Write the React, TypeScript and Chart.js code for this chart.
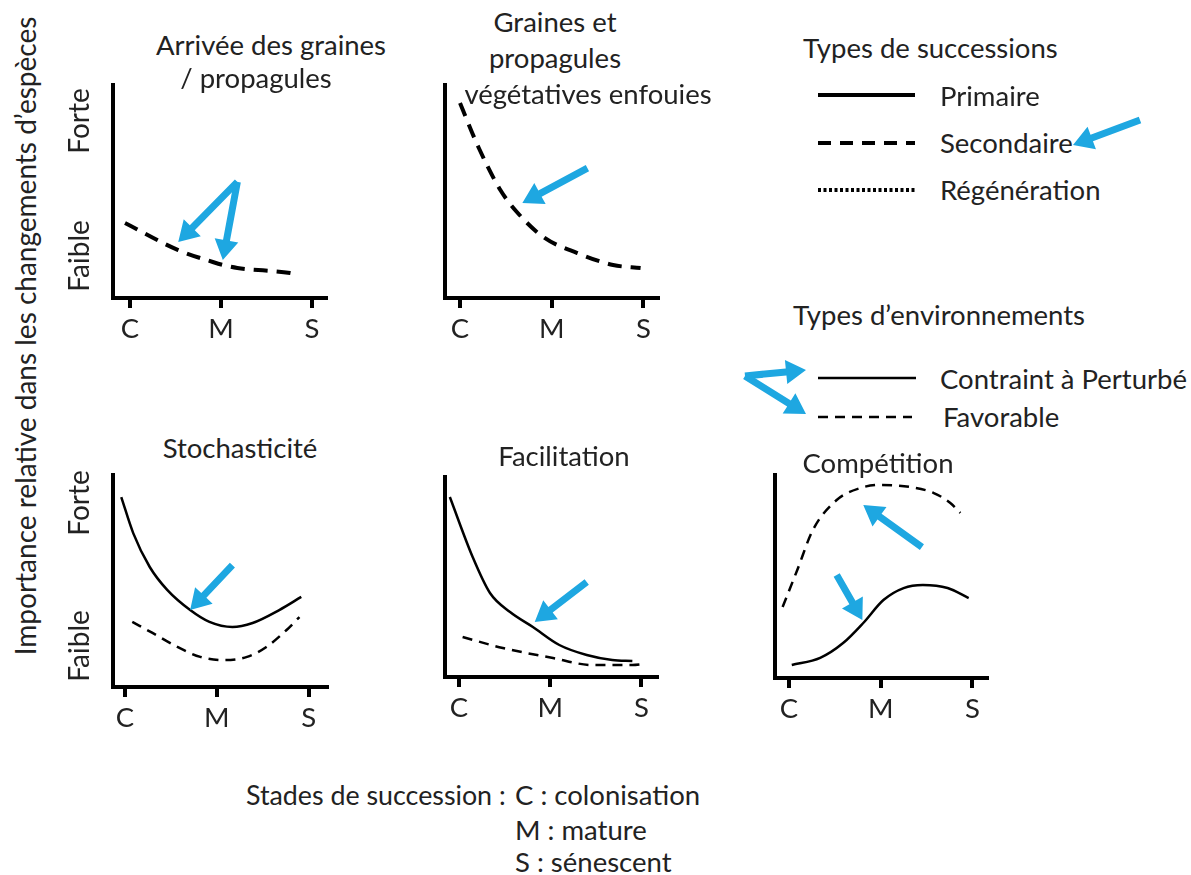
import React, { useEffect, useRef } from "react";
import { Chart, registerables } from "chart.js";
Chart.register(...registerables);

// ---------- data ----------
const STAGE_TICKS = [0, 1, 2];
const STAGE_LABELS = ["C", "M", "S"];

// Arrivée des graines / propagules (secondaire)
const arriveeX = [-0.055, 0.53, 0.91, 1.02, 1.18, 1.76, 1.85];
const arriveeSec = [3.52, 2.25, 1.69, 1.55, 1.41, 1.17, 1.08];

// Graines et propagules végétatives enfouies (secondaire)
const grainesX = [0, 0.2, 0.44, 0.62, 0.91, 1.28, 1.67, 1.97];
const grainesSec = [9.15, 7.09, 5.07, 4.04, 2.86, 2.11, 1.55, 1.41];

// Stochasticité
const stochContraintX = [-0.04, 0.09, 0.27, 0.46, 0.71, 0.92, 1.17, 1.39, 1.68, 1.92];
const stochContraint = [8.96, 7.26, 5.66, 4.58, 3.63, 3.07, 2.83, 3.02, 3.63, 4.25];
const stochFavX = [0.08, 0.3, 0.57, 0.82, 1.07, 1.33, 1.54, 1.76, 1.9];
const stochFav = [3.07, 2.55, 1.89, 1.42, 1.27, 1.42, 1.89, 2.69, 3.3];

// Facilitation
const facilContraintX = [-0.1, 0.15, 0.34, 0.56, 0.81, 1.1, 1.4, 1.68, 1.9];
const facilContraint = [9.0, 6.0, 4.2, 3.25, 2.5, 1.6, 1.1, 0.85, 0.8];
const facilFavX = [0.04, 0.48, 1.03, 1.46, 1.9, 2.03];
const facilFav = [2.0, 1.45, 0.95, 0.6, 0.6, 0.65];

// Compétition
const compFavX = [-0.07, 0.09, 0.26, 0.52, 0.78, 0.99, 1.32, 1.58, 1.76, 1.87];
const compFav = [3.5, 5.32, 7.29, 8.77, 9.36, 9.51, 9.41, 9.11, 8.62, 8.13];
const compContraintX = [0.03, 0.34, 0.59, 0.81, 1.03, 1.25, 1.46, 1.73, 1.96];
const compContraint = [0.64, 0.99, 1.72, 2.71, 3.84, 4.43, 4.58, 4.43, 3.94];

// annotation arrows, in data units [x1, y1, x2(tip), y2(tip)]
const arriveeArrows = [[1.18, 5.45, 0.53, 2.63], [1.18, 5.45, 1.02, 1.78]];
const grainesArrows = [[1.39, 6.1, 0.68, 4.46]];
const stochArrows = [[1.17, 5.75, 0.71, 3.63]];
const facilArrows = [[1.4, 4.75, 0.83, 2.75]];
const compArrows = [[1.45, 6.45, 0.81, 8.52], [0.52, 5.07, 0.8, 2.86]];

// ---------- styles ----------
const FONT = "Lato, 'Liberation Sans', sans-serif";
const TEXT = "#222";
const BLUE = "#1EA7E1";
const FS = 27.5;
const PAD_L = 20, PAD_T = 10, PAD_R = 20, X_H = 52;

const SEC = { width: 4, dash: [14, 9] };
const CONTR = { width: 2.5, dash: [] as number[] };
const FAV = { width: 2.5, dash: [10, 7] };

function arrowPoints(x1: number, y1: number, x2: number, y2: number, shaft = 7, headLen = 20, headW = 24) {
  const dx = x2 - x1, dy = y2 - y1;
  const L = Math.hypot(dx, dy);
  const ux = dx / L, uy = dy / L;
  const px = -uy, py = ux;
  const bx = x2 - ux * headLen, by = y2 - uy * headLen;
  return [
    [x1 + px * shaft / 2, y1 + py * shaft / 2],
    [bx + px * shaft / 2, by + py * shaft / 2],
    [bx + px * headW / 2, by + py * headW / 2],
    [x2, y2],
    [bx - px * headW / 2, by - py * headW / 2],
    [bx - px * shaft / 2, by - py * shaft / 2],
    [x1 - px * shaft / 2, y1 - py * shaft / 2],
  ];
}

type Series = { xs: number[]; ys: number[]; style: { width: number; dash: number[] } };
type Panel = {
  left: number; top: number; right: number; bottom: number;
  min: number; max: number;
  series: Series[];
  arrows: number[][];
};

const panels: Panel[] = [
  { left: 113, top: 85, right: 326, bottom: 298, min: -0.187, max: 2.154,
    series: [{ xs: arriveeX, ys: arriveeSec, style: SEC }], arrows: arriveeArrows },
  { left: 445, top: 85, right: 658, bottom: 298, min: -0.164, max: 2.16,
    series: [{ xs: grainesX, ys: grainesSec, style: SEC }], arrows: grainesArrows },
  { left: 113, top: 475, right: 327, bottom: 687, min: -0.13, max: 2.2,
    series: [{ xs: stochContraintX, ys: stochContraint, style: CONTR }, { xs: stochFavX, ys: stochFav, style: FAV }],
    arrows: stochArrows },
  { left: 445, top: 477, right: 657, bottom: 677, min: -0.153, max: 2.17,
    series: [{ xs: facilContraintX, ys: facilContraint, style: CONTR }, { xs: facilFavX, ys: facilFav, style: FAV }],
    arrows: facilArrows },
  { left: 775, top: 475, right: 987, bottom: 678, min: -0.153, max: 2.16,
    series: [{ xs: compContraintX, ys: compContraint, style: CONTR }, { xs: compFavX, ys: compFav, style: FAV }],
    arrows: compArrows },
];

function PanelChart({ p }: { p: Panel }) {
  const ref = useRef<HTMLCanvasElement>(null);
  useEffect(() => {
    const arrowPlugin = {
      id: "arrows",
      afterDatasetsDraw(chart: any) {
        const ctx = chart.ctx;
        const xs = chart.scales.x, ys = chart.scales.y;
        ctx.save();
        ctx.fillStyle = BLUE;
        for (const a of p.arrows) {
          const pts = arrowPoints(xs.getPixelForValue(a[0]), ys.getPixelForValue(a[1]), xs.getPixelForValue(a[2]), ys.getPixelForValue(a[3]));
          ctx.beginPath();
          pts.forEach(([x, y], i) => (i ? ctx.lineTo(x, y) : ctx.moveTo(x, y)));
          ctx.closePath();
          ctx.fill();
        }
        ctx.restore();
      },
    };
    const chart = new Chart(ref.current!, {
      type: "line",
      data: {
        datasets: p.series.map((s) => ({
          data: s.xs.map((x, i) => ({ x, y: s.ys[i] })),
          borderColor: "#000",
          borderWidth: s.style.width,
          borderDash: s.style.dash,
          pointRadius: 0,
          cubicInterpolationMode: "monotone" as const,
          fill: false,
        })),
      },
      options: {
        animation: false,
        responsive: false,
        events: [],
        layout: { padding: { left: PAD_L, top: PAD_T, right: PAD_R, bottom: 0 } },
        plugins: { legend: { display: false }, tooltip: { enabled: false } },
        scales: {
          x: {
            type: "linear",
            min: p.min,
            max: p.max,
            afterBuildTicks: (s: any) => { s.ticks = STAGE_TICKS.map((v) => ({ value: v })); },
            afterFit: (s: any) => { s.height = X_H; },
            ticks: {
              callback: (_v: any, i: number) => STAGE_LABELS[i],
              font: { family: FONT, size: FS },
              color: TEXT,
              padding: 5,
              maxRotation: 0,
              autoSkip: false,
            },
            grid: { drawOnChartArea: false, drawTicks: true, tickLength: 10, tickWidth: 4, tickColor: "#000", lineWidth: 4, color: "#000" },
            border: { display: true, width: 4, color: "#000" },
          },
          y: {
            min: 0,
            max: 10,
            afterFit: (s: any) => { s.width = 0; },
            ticks: { display: false },
            grid: { display: false },
            border: { display: true, width: 4, color: "#000" },
          },
        },
      } as any,
      plugins: [arrowPlugin],
    });
    return () => chart.destroy();
  }, [p]);
  const w = p.right - p.left + PAD_L + PAD_R;
  const h = p.bottom - p.top + PAD_T + X_H;
  return (
    <canvas
      ref={ref}
      width={w}
      height={h}
      style={{ position: "absolute", left: p.left - PAD_L, top: p.top - PAD_T, width: w, height: h }}
    />
  );
}

function Label({ text, x, y, align = "left", rotate = false, size = FS }: { text: string; x: number; y: number; align?: string; rotate?: boolean; size?: number }) {
  const tx = align === "center" ? "-50%" : "0";
  return (
    <div
      style={{
        position: "absolute",
        left: x,
        top: y,
        transform: rotate ? "translate(-50%, -50%) rotate(-90deg)" : `translate(${tx}, -50%)`,
        whiteSpace: "pre",
        fontFamily: FONT,
        fontSize: size,
        color: TEXT,
        lineHeight: 1,
      }}
    >
      {text}
    </div>
  );
}

function Poly({ a }: { a: number[] }) {
  const pts = arrowPoints(a[0], a[1], a[2], a[3]);
  return <polygon points={pts.map((q) => q.join(",")).join(" ")} fill={BLUE} />;
}

export default function App() {
  return (
    <div style={{ position: "absolute", left: 0, top: 0, width: 1191, height: 875, background: "#fff", overflow: "hidden" }}>
      {panels.map((p, i) => <PanelChart key={i} p={p} />)}

      <Label text="Importance relative dans les changements d’espèces" x={25} y={336} rotate size={28} />
      <Label text="Forte" x={78} y={121} rotate size={28} />
      <Label text="Faible" x={78} y={256} rotate size={28} />
      <Label text="Forte" x={78} y={503} rotate size={28} />
      <Label text="Faible" x={78} y={646} rotate size={28} />

      <Label text="Arrivée des graines" x={271} y={45} align="center" />
      <Label text="/ propagules" x={256} y={78} align="center" />
      <Label text="Graines et" x={555} y={22} align="center" />
      <Label text="propagules" x={555} y={58} align="center" />
      <Label text="végétatives enfouies" x={588} y={94} align="center" />
      <Label text="Stochasticité" x={240} y={448} align="center" />
      <Label text="Facilitation" x={564} y={456} align="center" />
      <Label text="Compétition" x={878} y={463} align="center" />

      <Label text="Types de successions" x={803} y={48} />
      <Label text="Primaire" x={940} y={96} />
      <Label text="Secondaire" x={940} y={143} />
      <Label text="Régénération" x={940} y={190} />
      <Label text="Types d’environnements" x={793} y={315} />
      <Label text="Contraint à Perturbé" x={940} y={379} />
      <Label text="Favorable" x={943} y={417} />

      <Label text="Stades de succession :" x={246} y={795} size={26.8} />
      <Label text="C : colonisation" x={515} y={795} />
      <Label text="M : mature" x={515} y={830} />
      <Label text="S : sénescent" x={515} y={862} />

      <svg width={1191} height={875} style={{ position: "absolute", left: 0, top: 0, pointerEvents: "none" }}>
        <line x1={818} y1={95} x2={915} y2={95} stroke="#000" strokeWidth={4} />
        <line x1={818} y1={143} x2={915} y2={143} stroke="#000" strokeWidth={4} strokeDasharray="13 9" />
        <line x1={818} y1={190} x2={915} y2={190} stroke="#000" strokeWidth={4} strokeDasharray="3 2.5" />
        <line x1={818} y1={378} x2={916} y2={378} stroke="#000" strokeWidth={2.5} />
        <line x1={818} y1={417} x2={912} y2={417} stroke="#000" strokeWidth={2.5} strokeDasharray="10 7" />
        <Poly a={[1140, 120, 1073, 145]} />
        <Poly a={[745, 376, 806, 370]} />
        <Poly a={[745, 376, 806, 414]} />
      </svg>
    </div>
  );
}
